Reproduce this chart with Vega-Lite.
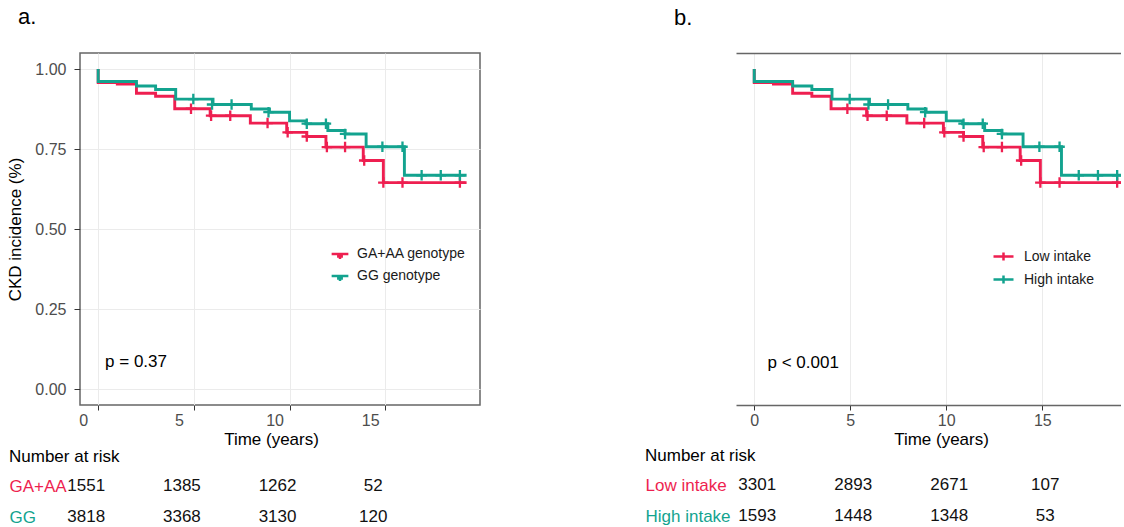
{
  "$schema": "https://vega.github.io/schema/vega-lite/v6.json",
  "padding": {"left": 6, "top": 6, "right": 0, "bottom": 0},
  "spacing": 164,
  "resolve": {"scale": {"color": "independent", "x": "independent", "y": "independent"}},
  "config": {
    "font": "Liberation Sans",
    "view": {"stroke": "#666666", "strokeWidth": 1.5},
    "axis": {
      "gridColor": "#ebebeb", "gridWidth": 1, "tickColor": "#333333", "tickWidth": 1,
      "labelColor": "#4d4d4d", "labelFontSize": 16, "titleFontSize": 17,
      "titleFontWeight": "normal", "titleColor": "#000000", "domain": false, "labelFlush": false
    },
    "legend": {"labelFontSize": 14, "labelColor": "#1a1a1a", "symbolOpacity": 1, "symbolFillColor": "transparent"}
  },
  "datasets": {
    "kmA": [
      {"i": 0, "t": 0, "s": 1.0, "g": "GA+AA genotype"},
      {"i": 1, "t": 0, "s": 0.958, "g": "GA+AA genotype"},
      {"i": 2, "t": 1.0, "s": 0.953, "g": "GA+AA genotype"},
      {"i": 3, "t": 2.0, "s": 0.924, "g": "GA+AA genotype"},
      {"i": 4, "t": 3.0, "s": 0.915, "g": "GA+AA genotype"},
      {"i": 5, "t": 4.0, "s": 0.876, "g": "GA+AA genotype"},
      {"i": 6, "t": 5.85, "s": 0.854, "g": "GA+AA genotype"},
      {"i": 7, "t": 7.95, "s": 0.831, "g": "GA+AA genotype"},
      {"i": 8, "t": 9.85, "s": 0.802, "g": "GA+AA genotype"},
      {"i": 9, "t": 10.9, "s": 0.789, "g": "GA+AA genotype"},
      {"i": 10, "t": 11.9, "s": 0.756, "g": "GA+AA genotype"},
      {"i": 11, "t": 13.85, "s": 0.714, "g": "GA+AA genotype"},
      {"i": 12, "t": 14.9, "s": 0.645, "g": "GA+AA genotype"},
      {"i": 13, "t": 19.25, "s": 0.645, "g": "GA+AA genotype"},
      {"i": 0, "t": 0, "s": 1.0, "g": "GG genotype"},
      {"i": 1, "t": 0, "s": 0.961, "g": "GG genotype"},
      {"i": 2, "t": 2.0, "s": 0.947, "g": "GG genotype"},
      {"i": 3, "t": 3.0, "s": 0.936, "g": "GG genotype"},
      {"i": 4, "t": 4.05, "s": 0.906, "g": "GG genotype"},
      {"i": 5, "t": 6.0, "s": 0.889, "g": "GG genotype"},
      {"i": 6, "t": 8.0, "s": 0.875, "g": "GG genotype"},
      {"i": 7, "t": 8.95, "s": 0.865, "g": "GG genotype"},
      {"i": 8, "t": 10.0, "s": 0.838, "g": "GG genotype"},
      {"i": 9, "t": 10.85, "s": 0.829, "g": "GG genotype"},
      {"i": 10, "t": 12.0, "s": 0.808, "g": "GG genotype"},
      {"i": 11, "t": 12.9, "s": 0.797, "g": "GG genotype"},
      {"i": 12, "t": 14.0, "s": 0.757, "g": "GG genotype"},
      {"i": 13, "t": 16.0, "s": 0.668, "g": "GG genotype"},
      {"i": 14, "t": 19.25, "s": 0.668, "g": "GG genotype"}
    ],
    "censA": [
      {"t": 4.85, "s": 0.876, "g": "GA+AA genotype"},
      {"t": 5.9, "s": 0.854, "g": "GA+AA genotype"},
      {"t": 6.9, "s": 0.854, "g": "GA+AA genotype"},
      {"t": 8.85, "s": 0.831, "g": "GA+AA genotype"},
      {"t": 9.9, "s": 0.802, "g": "GA+AA genotype"},
      {"t": 10.9, "s": 0.789, "g": "GA+AA genotype"},
      {"t": 11.95, "s": 0.756, "g": "GA+AA genotype"},
      {"t": 12.9, "s": 0.756, "g": "GA+AA genotype"},
      {"t": 13.9, "s": 0.714, "g": "GA+AA genotype"},
      {"t": 14.9, "s": 0.645, "g": "GA+AA genotype"},
      {"t": 15.9, "s": 0.645, "g": "GA+AA genotype"},
      {"t": 18.9, "s": 0.645, "g": "GA+AA genotype"},
      {"t": 4.97, "s": 0.906, "g": "GG genotype"},
      {"t": 5.95, "s": 0.889, "g": "GG genotype"},
      {"t": 6.97, "s": 0.889, "g": "GG genotype"},
      {"t": 8.9, "s": 0.865, "g": "GG genotype"},
      {"t": 10.9, "s": 0.829, "g": "GG genotype"},
      {"t": 11.9, "s": 0.829, "g": "GG genotype"},
      {"t": 12.9, "s": 0.797, "g": "GG genotype"},
      {"t": 14.85, "s": 0.757, "g": "GG genotype"},
      {"t": 15.9, "s": 0.757, "g": "GG genotype"},
      {"t": 16.9, "s": 0.668, "g": "GG genotype"},
      {"t": 17.9, "s": 0.668, "g": "GG genotype"},
      {"t": 18.9, "s": 0.668, "g": "GG genotype"}
    ],
    "riskA": [
      {"t": 0, "row": 0, "g": "GA+AA", "n": 1551},
      {"t": 5, "row": 0, "g": "GA+AA", "n": 1385},
      {"t": 10, "row": 0, "g": "GA+AA", "n": 1262},
      {"t": 15, "row": 0, "g": "GA+AA", "n": 52},
      {"t": 0, "row": 1, "g": "GG", "n": 3818},
      {"t": 5, "row": 1, "g": "GG", "n": 3368},
      {"t": 10, "row": 1, "g": "GG", "n": 3130},
      {"t": 15, "row": 1, "g": "GG", "n": 120}
    ],
    "kmB": [
      {"i": 0, "t": 0, "s": 1.0, "g": "Low intake"},
      {"i": 1, "t": 0, "s": 0.958, "g": "Low intake"},
      {"i": 2, "t": 1.0, "s": 0.953, "g": "Low intake"},
      {"i": 3, "t": 2.0, "s": 0.924, "g": "Low intake"},
      {"i": 4, "t": 3.0, "s": 0.915, "g": "Low intake"},
      {"i": 5, "t": 4.0, "s": 0.876, "g": "Low intake"},
      {"i": 6, "t": 5.85, "s": 0.854, "g": "Low intake"},
      {"i": 7, "t": 7.95, "s": 0.831, "g": "Low intake"},
      {"i": 8, "t": 9.85, "s": 0.802, "g": "Low intake"},
      {"i": 9, "t": 10.9, "s": 0.789, "g": "Low intake"},
      {"i": 10, "t": 11.9, "s": 0.756, "g": "Low intake"},
      {"i": 11, "t": 13.85, "s": 0.714, "g": "Low intake"},
      {"i": 12, "t": 14.9, "s": 0.645, "g": "Low intake"},
      {"i": 13, "t": 19.25, "s": 0.645, "g": "Low intake"},
      {"i": 0, "t": 0, "s": 1.0, "g": "High intake"},
      {"i": 1, "t": 0, "s": 0.961, "g": "High intake"},
      {"i": 2, "t": 2.0, "s": 0.947, "g": "High intake"},
      {"i": 3, "t": 3.0, "s": 0.936, "g": "High intake"},
      {"i": 4, "t": 4.05, "s": 0.906, "g": "High intake"},
      {"i": 5, "t": 6.0, "s": 0.889, "g": "High intake"},
      {"i": 6, "t": 8.0, "s": 0.875, "g": "High intake"},
      {"i": 7, "t": 8.95, "s": 0.865, "g": "High intake"},
      {"i": 8, "t": 10.0, "s": 0.838, "g": "High intake"},
      {"i": 9, "t": 10.85, "s": 0.829, "g": "High intake"},
      {"i": 10, "t": 12.0, "s": 0.808, "g": "High intake"},
      {"i": 11, "t": 12.9, "s": 0.797, "g": "High intake"},
      {"i": 12, "t": 14.0, "s": 0.757, "g": "High intake"},
      {"i": 13, "t": 16.0, "s": 0.668, "g": "High intake"},
      {"i": 14, "t": 19.25, "s": 0.668, "g": "High intake"}
    ],
    "censB": [
      {"t": 4.85, "s": 0.876, "g": "Low intake"},
      {"t": 5.9, "s": 0.854, "g": "Low intake"},
      {"t": 6.9, "s": 0.854, "g": "Low intake"},
      {"t": 8.85, "s": 0.831, "g": "Low intake"},
      {"t": 9.9, "s": 0.802, "g": "Low intake"},
      {"t": 10.9, "s": 0.789, "g": "Low intake"},
      {"t": 11.95, "s": 0.756, "g": "Low intake"},
      {"t": 12.9, "s": 0.756, "g": "Low intake"},
      {"t": 13.9, "s": 0.714, "g": "Low intake"},
      {"t": 14.9, "s": 0.645, "g": "Low intake"},
      {"t": 15.9, "s": 0.645, "g": "Low intake"},
      {"t": 18.9, "s": 0.645, "g": "Low intake"},
      {"t": 4.97, "s": 0.906, "g": "High intake"},
      {"t": 5.95, "s": 0.889, "g": "High intake"},
      {"t": 6.97, "s": 0.889, "g": "High intake"},
      {"t": 8.9, "s": 0.865, "g": "High intake"},
      {"t": 10.9, "s": 0.829, "g": "High intake"},
      {"t": 11.9, "s": 0.829, "g": "High intake"},
      {"t": 12.9, "s": 0.797, "g": "High intake"},
      {"t": 14.85, "s": 0.757, "g": "High intake"},
      {"t": 15.9, "s": 0.757, "g": "High intake"},
      {"t": 16.9, "s": 0.668, "g": "High intake"},
      {"t": 17.9, "s": 0.668, "g": "High intake"},
      {"t": 18.9, "s": 0.668, "g": "High intake"}
    ],
    "riskB": [
      {"t": 0, "row": 0, "g": "Low intake", "n": 3301},
      {"t": 5, "row": 0, "g": "Low intake", "n": 2893},
      {"t": 10, "row": 0, "g": "Low intake", "n": 2671},
      {"t": 15, "row": 0, "g": "Low intake", "n": 107},
      {"t": 0, "row": 1, "g": "High intake", "n": 1593},
      {"t": 5, "row": 1, "g": "High intake", "n": 1448},
      {"t": 10, "row": 1, "g": "High intake", "n": 1348},
      {"t": 15, "row": 1, "g": "High intake", "n": 53}
    ]
  },
  "hconcat": [
    {
      "title": {"text": "a.", "anchor": "start", "frame": "bounds", "fontSize": 22, "fontWeight": "normal", "color": "#000000", "offset": 23, "dx": 12},
      "spacing": 0,
      "resolve": {"scale": {"x": "independent", "y": "independent"}},
      "vconcat": [
        {
          "width": 400,
          "height": 352,
          "layer": [
            {
              "data": {"name": "kmA"},
              "mark": {"type": "line", "interpolate": "step-after", "strokeWidth": 2.9, "clip": true},
              "encoding": {
                "x": {"field": "t", "type": "quantitative", "scale": {"domain": [-0.95, 19.95], "nice": false, "zero": false},
                  "axis": {"title": "Time (years)", "values": [0, 5, 10, 15], "tickSize": 5, "labelPadding": 2, "labelOffset": -15, "titleX": 191, "titlePadding": 3}},
                "y": {"field": "s", "type": "quantitative", "scale": {"domain": [-0.05, 1.05], "nice": false, "zero": false},
                  "axis": {"title": "CKD incidence (%)", "values": [0, 0.25, 0.5, 0.75, 1], "format": ".2f", "tickSize": 6, "labelPadding": 8, "titlePadding": 10}},
                "color": {"field": "g", "type": "nominal",
                  "scale": {"domain": ["GA+AA genotype", "GG genotype"], "range": ["#EE1F50", "#13A38F"]},
                  "legend": {"title": null, "orient": "none", "legendX": 250, "legendY": 191, "symbolType": "M-1,0H1M0,0V0.6M-0.35,0.3H0.35", "symbolSize": 280, "symbolStrokeWidth": 2.5, "rowPadding": 1, "labelOffset": 7}},
                "order": {"field": "i", "type": "quantitative"}
              }
            },
            {
              "data": {"name": "censA"},
              "mark": {"type": "point", "shape": "M-1,0H1M0,-1V1", "filled": false, "size": 110, "strokeWidth": 2.3, "opacity": 1, "clip": true},
              "encoding": {
                "x": {"field": "t", "type": "quantitative"},
                "y": {"field": "s", "type": "quantitative"},
                "color": {"field": "g", "type": "nominal"}
              }
            },
            {
              "data": {"values": [{"t": 0.36, "s": 0.085, "label": "p = 0.37"}]},
              "mark": {"type": "text", "align": "left", "baseline": "middle", "fontSize": 17, "color": "#000000"},
              "encoding": {
                "x": {"field": "t", "type": "quantitative"},
                "y": {"field": "s", "type": "quantitative"},
                "text": {"field": "label"}
              }
            }
          ]
        },
        {
          "width": 400,
          "height": 50,
          "view": {"stroke": null},
          "title": {"text": "Number at risk", "anchor": "start", "frame": "bounds", "fontSize": 17, "fontWeight": "normal", "color": "#000000", "offset": 4},
          "data": {"name": "riskA"},
          "mark": {"type": "text", "fontSize": 17, "dx": -12, "color": "#111111", "baseline": "middle"},
          "encoding": {
            "x": {"field": "t", "type": "quantitative", "scale": {"domain": [-0.95, 19.95], "nice": false, "zero": false}, "axis": null},
            "y": {"field": "row", "type": "quantitative", "scale": {"domain": [-0.52, 1.09], "nice": false, "zero": false, "reverse": true},
              "axis": {"title": null, "values": [0, 1], "domain": false, "ticks": false, "grid": false, "labelAlign": "left", "labelBaseline": "middle", "labelPadding": 71, "labelFontSize": 17,
                "labelExpr": "datum.value === 0 ? 'GA+AA' : 'GG'",
                "labelColor": {"condition": {"test": "datum.value === 0", "value": "#EE1F50"}, "value": "#13A38F"}}},
            "text": {"field": "n"}
          }
        }
      ]
    },
    {
      "title": {"text": "b.", "anchor": "start", "frame": "bounds", "fontSize": 22, "fontWeight": "normal", "color": "#000000", "offset": 23, "dx": 29},
      "spacing": 0,
      "resolve": {"scale": {"x": "independent", "y": "independent"}},
      "vconcat": [
        {
          "width": 385,
          "height": 352,
          "view": {"stroke": null},
          "resolve": {"axis": {"x": "independent"}},
          "layer": [
            {
              "data": {"name": "kmB"},
              "mark": {"type": "line", "interpolate": "step-after", "strokeWidth": 2.9, "clip": true},
              "encoding": {
                "x": {"field": "t", "type": "quantitative", "scale": {"domain": [-0.95, 19.1], "nice": false, "zero": false},
                  "axis": {"title": "Time (years)", "values": [0, 5, 10, 15], "tickSize": 5, "labelPadding": 2, "titleX": 205, "titlePadding": 3, "domain": true, "domainColor": "#666666", "domainWidth": 1.5}},
                "y": {"field": "s", "type": "quantitative", "scale": {"domain": [-0.05, 1.05], "nice": false, "zero": false},
                  "axis": {"title": "CKD incidence (%)", "values": [0, 0.25, 0.5, 0.75, 1], "format": ".2f", "tickSize": 6, "labelPadding": 4, "titlePadding": 8, "domain": true, "domainColor": "#666666", "domainWidth": 1.5}},
                "color": {"field": "g", "type": "nominal",
                  "scale": {"domain": ["Low intake", "High intake"], "range": ["#EE1F50", "#13A38F"]},
                  "legend": {"title": null, "orient": "none", "legendX": 256, "legendY": 192, "symbolType": "M-1,0H1M0,-0.4V0.4", "symbolSize": 400, "symbolStrokeWidth": 2.5, "rowPadding": 2, "labelOffset": 9}},
                "order": {"field": "i", "type": "quantitative"}
              }
            },
            {
              "data": {"name": "censB"},
              "mark": {"type": "point", "shape": "M-1,0H1M0,-1V1", "filled": false, "size": 110, "strokeWidth": 2.3, "opacity": 1, "clip": true},
              "encoding": {
                "x": {"field": "t", "type": "quantitative", "axis": null},
                "y": {"field": "s", "type": "quantitative", "axis": null},
                "color": {"field": "g", "type": "nominal"}
              }
            },
            {
              "data": {"values": [{"t": 0.69, "s": 0.08, "label": "p < 0.001"}]},
              "mark": {"type": "text", "align": "left", "baseline": "middle", "fontSize": 17, "color": "#000000"},
              "encoding": {
                "x": {"field": "t", "type": "quantitative",
                  "axis": {"orient": "top", "labels": false, "ticks": false, "grid": false, "title": null, "domain": true, "domainColor": "#666666", "domainWidth": 1.5}},
                "y": {"field": "s", "type": "quantitative", "axis": null},
                "text": {"field": "label"}
              }
            }
          ]
        },
        {
          "width": 385,
          "height": 50,
          "view": {"stroke": null},
          "title": {"text": "Number at risk", "anchor": "start", "frame": "bounds", "fontSize": 17, "fontWeight": "normal", "color": "#000000", "offset": 4},
          "data": {"name": "riskB"},
          "mark": {"type": "text", "fontSize": 17, "dx": 3, "color": "#111111", "baseline": "middle"},
          "encoding": {
            "x": {"field": "t", "type": "quantitative", "scale": {"domain": [-0.95, 19.1], "nice": false, "zero": false}, "axis": null},
            "y": {"field": "row", "type": "quantitative", "scale": {"domain": [-0.52, 1.09], "nice": false, "zero": false, "reverse": true},
              "axis": {"title": null, "values": [0, 1], "domain": false, "ticks": false, "grid": false, "labelAlign": "left", "labelBaseline": "middle", "labelPadding": 91, "labelFontSize": 17,
                "labelExpr": "datum.value === 0 ? 'Low intake' : 'High intake'",
                "labelColor": {"condition": {"test": "datum.value === 0", "value": "#EE1F50"}, "value": "#13A38F"}}},
            "text": {"field": "n"}
          }
        }
      ]
    }
  ]
}
